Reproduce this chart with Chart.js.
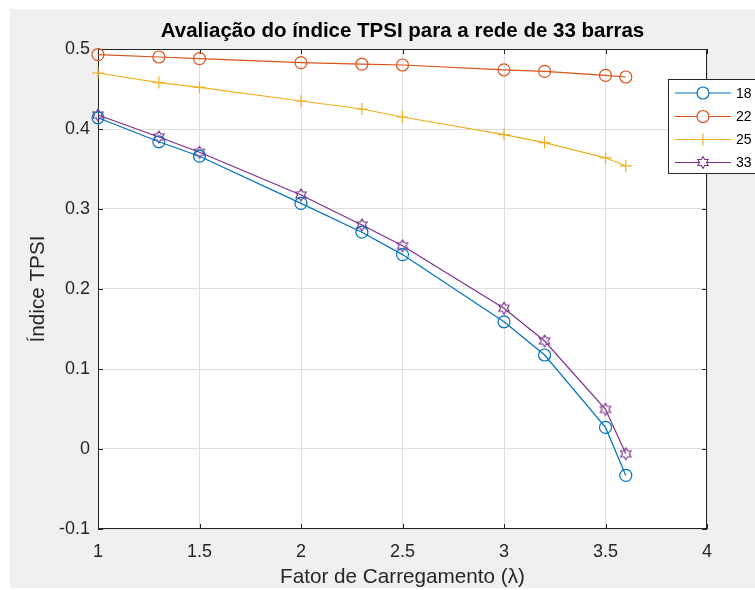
<!DOCTYPE html>
<html>
<head>
<meta charset="utf-8">
<script src="https://cdn.jsdelivr.net/npm/chart.js@4/dist/chart.umd.min.js"></script>
<style>
  html, body { margin: 0; padding: 0; background: #ffffff; }
  #wrap { width: 755px; height: 590px; }
</style>
</head>
<body>
<div id="wrap"><canvas id="c" width="755" height="590"></canvas></div>
<script>
// ---- data ----
const loadFactor = [1, 1.3, 1.5, 2, 2.3, 2.5, 3, 3.2, 3.5, 3.6];
const bus18 = [0.414, 0.384, 0.366, 0.307, 0.271, 0.243, 0.159, 0.1175, 0.027, -0.033];
const bus22 = [0.493, 0.490, 0.488, 0.483, 0.481, 0.480, 0.474, 0.472, 0.467, 0.465];
const bus25 = [0.470, 0.458, 0.452, 0.435, 0.425, 0.415, 0.393, 0.383, 0.364, 0.354];
const bus33 = [0.4175, 0.390, 0.371, 0.3175, 0.280, 0.254, 0.176, 0.135, 0.0496, -0.006];
const seriesLabels = ['18', '22', '25', '33'];
const xTickValues = [1, 1.5, 2, 2.5, 3, 3.5, 4];
const yTickValues = [-0.1, 0, 0.1, 0.2, 0.3, 0.4, 0.5];
const titleText = 'Avaliação do índice TPSI para a rede de 33 barras';
const xLabel = 'Fator de Carregamento (λ)';
const yLabel = 'Índice TPSI';

const colors = ['#0072BD', '#D95319', '#EDB120', '#7E2F8E'];
const FONT = '"Liberation Sans", Arial, Helvetica, sans-serif';
Chart.defaults.font.family = FONT;

function hexagramPath(ctx, cx, cy, R) {
  const r = R / Math.sqrt(3);
  ctx.beginPath();
  for (let k = 0; k < 12; k++) {
    const ang = -Math.PI / 2 + k * Math.PI / 6;
    const rad = (k % 2 === 0) ? R : r;
    const px = cx + rad * Math.cos(ang), py = cy + rad * Math.sin(ang);
    if (k === 0) ctx.moveTo(px, py); else ctx.lineTo(px, py);
  }
  ctx.closePath();
}
function makeHexagram(color) {
  const cv = document.createElement('canvas');
  cv.width = 16; cv.height = 16;
  const g = cv.getContext('2d');
  g.strokeStyle = color; g.lineWidth = 1.1;
  hexagramPath(g, 8, 8, 6);
  g.stroke();
  return cv;
}
const hexImg = makeHexagram(colors[3]);
const pointStyles = ['circle', 'circle', 'cross', hexImg];

function toPoints(ys) { return loadFactor.map((x, i) => ({ x: x, y: ys[i] })); }
const allSeries = [bus18, bus22, bus25, bus33];

const datasets = allSeries.map((ys, i) => ({
  label: seriesLabels[i],
  data: toPoints(ys),
  borderColor: colors[i],
  backgroundColor: 'rgba(0,0,0,0)',
  borderWidth: 1.2,
  pointStyle: pointStyles[i],
  pointRadius: 6,
  pointHoverRadius: 6,
  pointBorderWidth: 1.2,
  pointBorderColor: colors[i],
  pointBackgroundColor: 'rgba(0,0,0,0)',
  tension: 0,
  showLine: true,
  clip: false
}));

const figurePlugin = {
  id: 'figure',
  beforeDraw(chart) {
    const ctx = chart.ctx, a = chart.chartArea;
    ctx.save();
    ctx.fillStyle = '#ffffff';
    ctx.fillRect(0, 0, chart.width, chart.height);
    ctx.fillStyle = '#f0f0f0';
    ctx.fillRect(10, 9, chart.width - 10, chart.height - 11);
    ctx.fillStyle = '#ffffff';
    ctx.fillRect(a.left, a.top, a.right - a.left, a.bottom - a.top);
    ctx.restore();
  },
  beforeDatasetsDraw(chart) {
    const ctx = chart.ctx, a = chart.chartArea;
    const xs = chart.scales.x, ys = chart.scales.y;
    ctx.save();
    ctx.strokeStyle = '#262626';
    ctx.lineWidth = 1;
    ctx.strokeRect(a.left + 0.5, a.top + 0.5, a.right - a.left - 1, a.bottom - a.top - 1);
    ctx.beginPath();
    const tl = 5;
    xTickValues.forEach(v => {
      const p = Math.round(xs.getPixelForValue(v)) + 0.5;
      ctx.moveTo(p, a.bottom); ctx.lineTo(p, a.bottom - tl);
      ctx.moveTo(p, a.top); ctx.lineTo(p, a.top + tl);
    });
    yTickValues.forEach(v => {
      const p = Math.round(ys.getPixelForValue(v)) + 0.5;
      ctx.moveTo(a.left, p); ctx.lineTo(a.left + tl, p);
      ctx.moveTo(a.right, p); ctx.lineTo(a.right - tl, p);
    });
    ctx.stroke();
    ctx.restore();
  },
  afterDraw(chart) {
    const ctx = chart.ctx, a = chart.chartArea;
    ctx.save();
    // title centred over the axes
    ctx.fillStyle = '#000000';
    ctx.font = 'bold 20.5px ' + FONT;
    ctx.textAlign = 'center';
    ctx.textBaseline = 'middle';
    ctx.fillText(titleText, (a.left + a.right) / 2, 31);

    // legend box
    const bx = 668.5, by = 79.5, bw = 100, bh = 94;
    ctx.fillStyle = '#ffffff';
    ctx.fillRect(bx, by, bw, bh);
    ctx.strokeStyle = '#262626';
    ctx.lineWidth = 1;
    ctx.strokeRect(bx, by, bw, bh);
    const rows = [93, 116.5, 139.5, 162.5];
    chart.data.datasets.forEach((ds, i) => {
      const y = rows[i];
      ctx.strokeStyle = ds.borderColor;
      ctx.lineWidth = 1.2;
      ctx.beginPath();
      ctx.moveTo(675, y); ctx.lineTo(731, y);
      ctx.stroke();
      const mx = 703;
      if (i < 2) {
        ctx.fillStyle = '#ffffff';
        ctx.beginPath(); ctx.arc(mx, y, 6, 0, Math.PI * 2); ctx.fill(); ctx.stroke();
      } else if (i === 2) {
        ctx.beginPath();
        ctx.moveTo(mx - 6, y); ctx.lineTo(mx + 6, y);
        ctx.moveTo(mx, y - 6); ctx.lineTo(mx, y + 6);
        ctx.stroke();
      } else {
        ctx.fillStyle = '#ffffff';
        hexagramPath(ctx, mx, y, 6); ctx.fill();
        ctx.lineWidth = 1.1;
        hexagramPath(ctx, mx, y, 6); ctx.stroke();
      }
      ctx.fillStyle = '#000000';
      ctx.font = '14px ' + FONT;
      ctx.textAlign = 'left';
      ctx.textBaseline = 'middle';
      ctx.fillText(ds.label, 736, y + 1);
    });
    ctx.restore();
  }
};

function fmt(v) { return String(+Number(v).toFixed(2)); }

new Chart(document.getElementById('c'), {
  type: 'scatter',
  data: { datasets: datasets },
  plugins: [figurePlugin],
  options: {
    responsive: false,
    animation: false,
    devicePixelRatio: 1,
    layout: { padding: { left: 0, right: 48, top: 49, bottom: 0 } },
    plugins: {
      legend: { display: false },
      tooltip: { enabled: false },
      title: { display: false }
    },
    scales: {
      x: {
        type: 'linear',
        min: 1, max: 4,
        afterFit: s => { s.height = 61; },
        afterBuildTicks: s => { s.ticks = xTickValues.map(v => ({ value: v })); },
        ticks: { color: '#262626', font: { size: 18 }, padding: 12, callback: v => fmt(v), maxRotation: 0, autoSkip: false },
        grid: { color: '#dfdfdf', lineWidth: 1, drawTicks: false },
        border: { display: false },
        title: { display: true, text: xLabel, color: '#262626', font: { size: 20.7 }, padding: { top: 0, bottom: 0 } }
      },
      y: {
        type: 'linear',
        min: -0.1, max: 0.5,
        afterFit: s => { s.width = 98; },
        afterBuildTicks: s => { s.ticks = yTickValues.map(v => ({ value: v })); },
        ticks: { color: '#262626', font: { size: 18 }, padding: 8, callback: v => fmt(v), autoSkip: false },
        grid: { color: '#dfdfdf', lineWidth: 1, drawTicks: false },
        border: { display: false },
        title: { display: true, text: yLabel, color: '#262626', font: { size: 20.7 }, padding: { top: 26, bottom: 0 } }
      }
    }
  }
});
</script>
</body>
</html>
